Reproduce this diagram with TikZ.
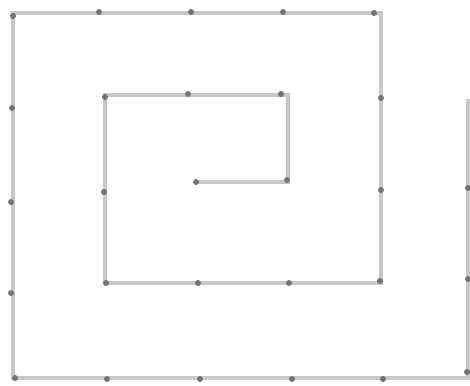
\documentclass[tikz,border=0pt]{standalone}
\begin{document}
\begin{tikzpicture}[x=1pt,y=-1pt,
  spiral/.style={draw=black!22,line width=4pt,line join=miter,line cap=rect},
  pin/.style={circle,fill=black!55,inner sep=0pt,minimum size=6pt}]
\useasboundingbox (0,0) rectangle (470,385);
\draw[spiral] (196,182) -- (288,182) -- (288,95) -- (105,95) -- (105,283)
  -- (381,283) -- (381,13) -- (13,13) -- (13,378) -- (468,378) -- (468,101);
\foreach \p in {(196,182),(287,180),(281,94),(188,94),(105,97),(104,192),
  (106,283),(198,283),(289,283),(380,281),(381,190),(381,98),
  (374,13),(283,12),(191,12),(99,12),(13,16),(12,108),(11,202),(11,293),
  (15,378),(107,379),(200,379),(292,379),(383,379),(467,372),(468,279),(468,188)}
  \node[pin] at \p {};
\end{tikzpicture}
\end{document}
